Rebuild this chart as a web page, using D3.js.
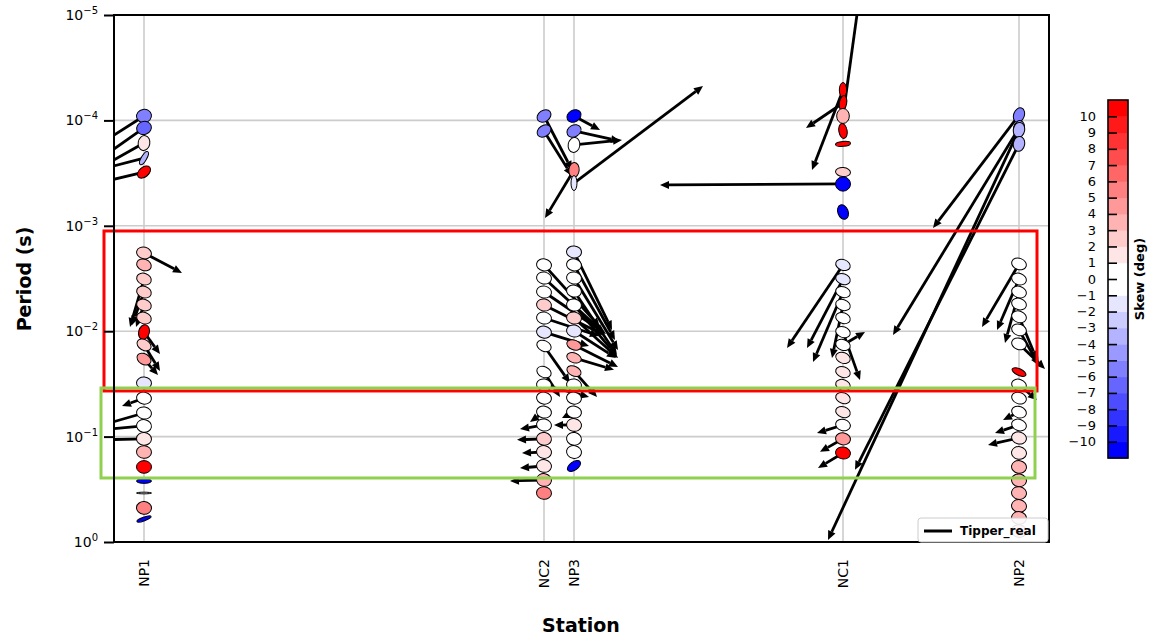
<!DOCTYPE html>
<html><head><meta charset="utf-8">
<script src="https://cdn.jsdelivr.net/npm/d3@7"></script>
<style>body{margin:0;background:#fff} text{font-family:"DejaVu Sans",sans-serif}</style>
</head><body><svg id="c" width="1154" height="636"></svg>
<script>
const stations = ["NP1","NC2","NP3","NC1","NP2"];
const stationDist = [0, 400, 430, 699, 875];
const yTicks = [1e-5,1e-4,1e-3,1e-2,1e-1,1];
const yTickExp = ["\u22125","\u22124","\u22123","\u22122","\u22121","0"];
const skewTicks = d3.range(-10, 11);
// rows: [period (s), skew (deg), phimax, phimin, azimuth (deg), tipper real E, tipper real N]
const np1 = [
 [9.08e-5,-6,45,40,80,-0.50,-0.32],[1.18e-4,-6.5,45,39,70,-0.50,-0.35],[1.64e-4,1.5,45,35,10,-0.50,-0.28],
 [2.28e-4,-4,45,16,30,-0.50,-0.13],[3.09e-4,10,45,29,50,-0.50,-0.12],
 [1.81e-3,2,45,35,105,0.38,-0.20],[2.35e-3,3.5,45,34,110,null,null],[3.2e-3,2,45,34,110,-0.14,-0.48],
 [4.25e-3,2,45,34,110,-0.12,-0.33],[5.64e-3,2.5,45,34,110,-0.08,-0.22],[7.5e-3,2,45,34,110,null,null],
 [1.02e-2,10,45,32,15,0.16,-0.22],[1.35e-2,2,45,32,120,0.16,-0.26],[1.84e-2,4,45,32,120,0.14,-0.16],
 [3.1e-2,-2,45,36,95,null,null],[4.31e-2,0,45,36,100,-0.22,-0.08],[5.97e-2,0,45,36,100,-0.45,-0.13],
 [7.92e-2,0,45,38,100,-0.45,-0.04],[0.105,1,45,38,95,-0.45,-0.01],[0.14,3,45,38,95,null,null],
 [0.194,10,45,38,90,null,null],[0.264,-10.5,45,14,90,null,null],[0.343,0,45,5,90,null,null],
 [0.475,5,45,38,95,null,null],[0.605,-10.5,45,11,70,null,null]
];
const nc2 = [
 [9.08e-5,-6,45,34,55,0.28,-0.54],[1.26e-4,-6,45,33,55,0.28,-0.45],
 [2.35e-3,0,45,36,100,0.56,-0.62],[3.13e-3,0,45,36,100,0.60,-0.55],[4.25e-3,0,45,36,100,0.62,-0.42],
 [5.64e-3,2,45,36,100,0.60,-0.30],[7.5e-3,0,45,36,100,0.55,-0.18],[1.02e-2,-2,45,36,100,0.45,-0.14],
 [1.38e-2,0,45,32,115,0.26,-0.37],[2.44e-2,0,45,32,115,0.16,-0.25],[3.24e-2,0,45,36,100,0.45,-0.12],
 [4.31e-2,0,45,36,100,null,null],[5.85e-2,0,45,36,100,-0.14,-0.10],[7.76e-2,0,45,36,100,-0.24,-0.04],
 [0.105,2,45,38,100,-0.27,-0.01],[0.14,1.5,45,38,100,-0.22,-0.01],[0.19,1.5,45,38,100,-0.24,-0.02],
 [0.258,3,45,38,100,-0.34,-0.01],[0.343,5,45,38,95,null,null]
];
const np3 = [
 [9.08e-5,-10.5,45,35,60,0.26,-0.14],[1.26e-4,-6,45,35,60,0.46,-0.10],[1.71e-4,0,45,35,10,0.48,0.05],
 [2.96e-4,5.5,45,31,5,-0.29,-0.48],[3.93e-4,-2,45,18,0,1.29,0.97],
 [1.77e-3,-2,45,36,95,0.38,-0.78],[2.35e-3,0,45,36,100,0.41,-0.75],[3.13e-3,0,45,36,100,0.44,-0.72],
 [4.16e-3,0,45,36,100,0.43,-0.64],[5.64e-3,0,45,36,100,0.42,-0.50],[7.5e-3,2,45,36,100,0.44,-0.40],
 [9.95e-3,-2,45,36,100,0.42,-0.27],[1.35e-2,4,45,29,110,0.44,-0.22],[1.79e-2,3,45,29,110,0.40,-0.12],
 [2.39e-2,3,45,29,115,0.23,-0.26],[3.24e-2,0,45,36,100,null,null],[4.31e-2,0,45,36,100,null,null],
 [5.85e-2,0,45,36,100,-0.12,-0.06],[7.76e-2,1.5,45,38,100,-0.20,0],[0.105,0,45,38,100,null,null],
 [0.14,0,45,38,100,null,null],[0.19,-10.5,45,25,55,null,null]
];
const nc1 = [
 [5.15e-5,10,45,22,0,-0.31,-0.80],[6.84e-5,10,45,22,10,-0.37,-0.25],[9.08e-5,3,45,38,0,0.20,1.45],
 [1.26e-4,10,45,25,170,null,null],[1.67e-4,10,45,15,85,null,null],[3.09e-4,2,45,27,95,null,null],
 [4.01e-4,-10.5,45,43,90,-1.83,-0.01],[7.4e-4,-10.5,45,31,160,null,null],
 [2.35e-3,-2,45,32,110,-0.56,-0.83],[3.2e-3,-2,45,32,110,-0.36,-0.69],[4.25e-3,0,45,32,110,-0.30,-0.70],
 [5.64e-3,0,45,32,110,-0.11,-0.53],[7.5e-3,0,45,32,110,null,null],[1.02e-2,0,45,32,110,0.17,-0.48],
 [1.35e-2,0,45,32,110,0.22,0.13],[1.79e-2,1,45,32,110,null,null],[2.44e-2,1.5,45,32,110,null,null],
 [3.24e-2,1,45,32,110,null,null],[4.31e-2,1.5,45,32,110,null,null],[5.85e-2,1.5,45,32,110,null,null],
 [7.76e-2,0,45,34,105,-0.26,-0.08],[0.105,4,45,36,100,-0.23,-0.13],[0.143,10,45,36,100,-0.25,-0.15]
];
const np2 = [
 [8.9e-5,-6,45,32,20,-0.86,-1.13],[1.18e-4,-5,45,32,15,-1.26,-2.07],[1.23e-4,-4,45,34,10,-1.91,-4.10],
 [1.67e-4,-4,45,34,10,-1.64,-3.26],
 [2.3e-3,0,45,34,110,-0.37,-0.63],[3.2e-3,0,45,34,110,-0.22,-0.51],[4.25e-3,0,45,34,110,-0.14,-0.51],
 [5.52e-3,0,45,34,110,null,null],[7.3e-3,0,45,34,110,0.18,-0.43],[9.7e-3,0,45,34,110,0.20,-0.36],
 [1.32e-2,0,45,34,110,0.26,-0.25],[2.44e-2,10,45,20,115,null,null],[3.24e-2,0,45,34,110,0.18,-0.15],
 [4.31e-2,0,45,34,110,null,null],[5.85e-2,0,45,34,110,-0.16,-0.08],[7.76e-2,0,45,34,110,-0.24,-0.08],
 [0.103,1,45,36,105,-0.31,-0.07],[0.143,1.5,45,38,100,null,null],[0.194,3,45,38,100,null,null],
 [0.26,3.5,45,38,100,null,null],[0.343,3.5,45,38,100,null,null],[0.455,3.5,45,38,100,null,null],
 [0.591,3.5,45,38,100,null,null],[0.787,4,45,38,100,null,null]
];
const stationData = [np1, nc2, np3, nc1, np2];
// highlight boxes: [dist min, dist max, period min, period max]
const redBox = [-40, 893, 1.12e-3, 3.69e-2];
const greenBox = [-43, 891, 3.46e-2, 0.247];

const M = {l:114, r:1049, t:15, b:542};
const svg = d3.select("#c");
const x = d3.scaleLinear().domain([-30, 905]).range([M.l, M.r]);
const y = d3.scaleLog().domain([1e-5, 1]).range([M.t, M.b]);
const ellR = 7.5, tipScale = 100;

function skewColor(s){
  const k = Math.floor(Math.max(-11, Math.min(10.999, s)));
  const i = k >= 0 ? k/10 : (-(k+1))/10;
  const v = Math.round(255*(1-i));
  return k >= 0 ? `rgb(255,${v},${v})` : `rgb(${v},${v},255)`;
}

svg.append("defs").append("clipPath").attr("id","pc").append("rect")
  .attr("x",M.l).attr("y",M.t).attr("width",M.r-M.l).attr("height",M.b-M.t);

// grid
const grid = svg.append("g").attr("stroke","#cccccc").attr("stroke-width",1.6);
yTicks.slice(1,-1).forEach(t => grid.append("line").attr("x1",M.l).attr("x2",M.r).attr("y1",y(t)).attr("y2",y(t)));
stationDist.forEach(d => grid.append("line").attr("x1",x(d)).attr("x2",x(d)).attr("y1",M.t).attr("y2",M.b));

const plot = svg.append("g").attr("clip-path","url(#pc)");
const arrowsG = plot.append("g");
const ellG = plot.append("g");

function arrow(g, x0, y0, dx, dy){
  const L = Math.hypot(dx,dy); if (L < 1) return;
  const ux = dx/L, uy = dy/L;
  const hl = Math.min(9, L*0.6), hw = 4;
  const tx = x0+dx, ty = y0+dy, bx = tx-ux*hl, by = ty-uy*hl;
  g.append("line").attr("x1",x0).attr("y1",y0).attr("x2",bx).attr("y2",by)
    .attr("stroke","#000").attr("stroke-width",2.8);
  g.append("polygon").attr("points",`${tx},${ty} ${bx-uy*hw},${by+ux*hw} ${bx+uy*hw},${by-ux*hw}`)
    .attr("fill","#000");
}

stationData.forEach((rows, si) => {
  const cx = x(stationDist[si]);
  rows.forEach(r => {
    const [T, skew, pmax, pmin, az, tE, tN] = r;
    const cy = y(T);
    if (tE !== null) arrow(arrowsG, cx, cy, tE*tipScale, -tN*tipScale);
    ellG.append("ellipse").attr("cx",cx).attr("cy",cy)
      .attr("rx",ellR).attr("ry",ellR*pmin/pmax)
      .attr("transform",`rotate(${az-90},${cx},${cy})`)
      .attr("fill",skewColor(skew)).attr("stroke","#000").attr("stroke-width",1);
  });
});

// highlight boxes
[[redBox,"#ff0000"],[greenBox,"#8fd14f"]].forEach(([b,c]) => {
  svg.append("rect").attr("x",x(b[0])).attr("y",y(b[2])).attr("width",x(b[1])-x(b[0]))
    .attr("height",y(b[3])-y(b[2])).attr("fill","none").attr("stroke",c).attr("stroke-width",3);
});

// axes frame
svg.append("rect").attr("x",M.l).attr("y",M.t).attr("width",M.r-M.l).attr("height",M.b-M.t)
  .attr("fill","none").attr("stroke","#000").attr("stroke-width",2);

const yAx = svg.append("g").attr("transform",`translate(${M.l},0)`)
  .call(d3.axisLeft(y).tickValues(yTicks).tickSize(10).tickPadding(6).tickFormat(""));
yAx.select(".domain").remove();
yAx.selectAll(".tick line").attr("stroke-width",2);
yAx.selectAll(".tick text").each(function(d,i){
  const t = d3.select(this).attr("font-size","14px").attr("fill","#000");
  t.append("tspan").text("10");
  t.append("tspan").attr("dy","-0.6em").attr("font-size","10px").text(yTickExp[i]);
});

const xAx = svg.append("g").attr("transform",`translate(0,${M.b})`)
  .call(d3.axisBottom(x).tickValues(stationDist).tickSize(0).tickFormat((d,i)=>stations[i]));
xAx.select(".domain").remove();
xAx.selectAll(".tick text").attr("font-size","14px").attr("fill","#000")
  .attr("transform","rotate(-90)").attr("text-anchor","end").attr("dx","-17px").attr("dy","0.35em").attr("y",0).attr("x",0);

svg.append("text").attr("x",581).attr("y",632).attr("text-anchor","middle")
  .attr("font-size","19px").attr("font-weight","bold").text("Station");
svg.append("text").attr("transform","translate(31,279) rotate(-90)").attr("text-anchor","middle")
  .attr("font-size","19px").attr("font-weight","bold").text("Period (s)");

// colorbar
const cb = {x:1108, w:20, t:100, b:458};
const cy2 = d3.scaleLinear().domain([-11, 11]).range([cb.b, cb.t]);
d3.range(-11, 11).forEach(k => {
  svg.append("rect").attr("x",cb.x).attr("y",cy2(k+1)).attr("width",cb.w).attr("height",cy2(k)-cy2(k+1)+0.5)
    .attr("fill",skewColor(k+0.5));
});
svg.append("rect").attr("x",cb.x).attr("y",cb.t).attr("width",cb.w).attr("height",cb.b-cb.t)
  .attr("fill","none").attr("stroke","#000").attr("stroke-width",1.6);
const cbAx = svg.append("g").attr("transform",`translate(${cb.x},0)`)
  .call(d3.axisRight(cy2).tickValues(skewTicks).tickSize(9).tickFormat(""));
cbAx.select(".domain").remove();
cbAx.selectAll(".tick line").attr("stroke-width",1.6);
skewTicks.forEach(v => {
  svg.append("text").attr("x",cb.x-12).attr("y",cy2(v)).attr("dy","0.35em").attr("text-anchor","end")
    .attr("font-size","13px").text(v < 0 ? "\u2212"+Math.abs(v) : v);
});
svg.append("text").attr("transform",`translate(1144,${(cb.t+cb.b)/2}) rotate(-90)`).attr("text-anchor","middle")
  .attr("font-size","13px").attr("font-weight","bold").text("Skew (deg)");

// legend
const lg = svg.append("g");
lg.append("rect").attr("x",918).attr("y",518).attr("width",130).attr("height",24).attr("rx",3)
  .attr("fill","#fff").attr("fill-opacity",0.9).attr("stroke","#cccccc");
lg.append("line").attr("x1",924).attr("x2",952).attr("y1",531).attr("y2",531).attr("stroke","#000").attr("stroke-width",3);
lg.append("text").attr("x",960).attr("y",535).attr("font-size","12px").attr("font-weight","bold").text("Tipper_real");
</script></body></html>
